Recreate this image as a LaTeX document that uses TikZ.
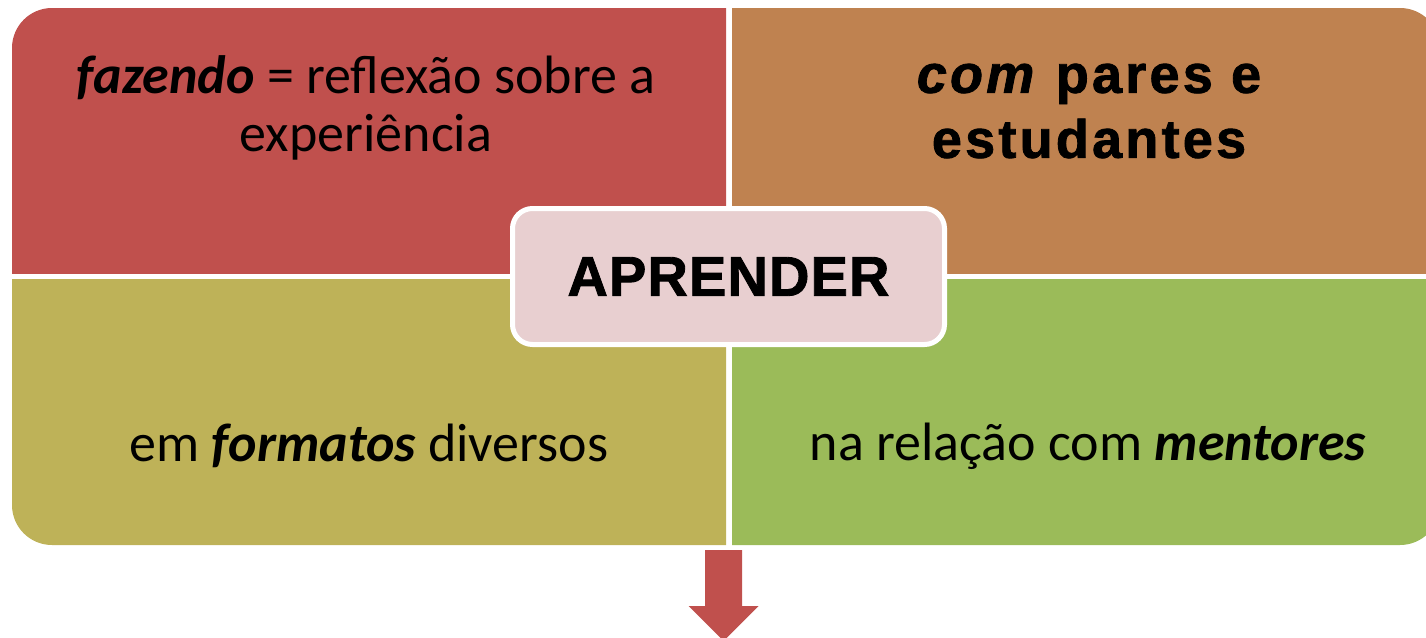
\documentclass[tikz,border=0pt]{standalone}
\usepackage{fontspec}
\setmainfont{Carlito}
\newfontfamily\widefont[LetterSpace=6, FakeBold=1.5]{Liberation Sans}
\newfontfamily\capsfont[LetterSpace=2, FakeBold=1.5]{Liberation Sans}

\definecolor{fazcol}{HTML}{C0504D}
\definecolor{comcol}{HTML}{BF8250}
\definecolor{formcol}{HTML}{BEB258}
\definecolor{mentcol}{HTML}{9BBB59}
\definecolor{hubcol}{HTML}{E8CFD0}

\begin{document}
\begin{tikzpicture}[x=1pt,y=-1pt]
        \tikzstyle{every node}=[inner sep=0pt, text=black]
        \tikzstyle{body}=[font=\fontsize{54}{58}\selectfont, align=center]
        \tikzstyle{heavy}=[font=\widefont\bfseries\fontsize{54}{65}\selectfont, align=center]
        \tikzstyle{hub}=[rectangle, rounded corners=20, fill=hubcol, draw=white, line width=5pt,
                         minimum width=432, minimum height=136, font=\capsfont\bfseries\fontsize{56}{60}\selectfont]
        \useasboundingbox (0,0) rectangle (1426,637);

        % quadrants, only the outer corner is rounded
        \begin{scope}
            \clip (12,8) rectangle (726,273);
            \fill[fazcol, rounded corners=40] (12,8) rectangle (826,373);
        \end{scope}
        \begin{scope}
            \clip (732,8) rectangle (1440,273);
            \fill[comcol, rounded corners=40] (632,8) rectangle (1440,373);
        \end{scope}
        \begin{scope}
            \clip (12,279) rectangle (726,545);
            \fill[formcol, rounded corners=40] (12,179) rectangle (826,545);
        \end{scope}
        \begin{scope}
            \clip (732,279) rectangle (1440,545);
            \fill[mentcol, rounded corners=40] (632,179) rectangle (1440,545);
        \end{scope}

        \node[body]  (faz)  at (366,108)  {\textbf{\textit{fazendo}} = reflexão sobre a\\experiência};
        \node[heavy] (com)  at (1089,111) {\textit{com} pares e\\estudantes};
        \node[body]  (form) at (369,446)  {em \textbf{\textit{formatos}} diversos};
        \node[body]  (ment) at (1088,446) {na relação com \textbf{\textit{mentores}}};

        \node[hub] (aprender) at (728.5,276.5) {APRENDER};

        \coordinate (arrowtop) at (723.5,550);
        \fill[fazcol] (arrowtop) ++(-18.5,0) -- ++(37,0) -- ++(0,56) -- ++(16.5,0)
            -- ++(-35,35) -- ++(-35,-35) -- ++(16.5,0) -- cycle;
    \end{tikzpicture}
\end{document}
